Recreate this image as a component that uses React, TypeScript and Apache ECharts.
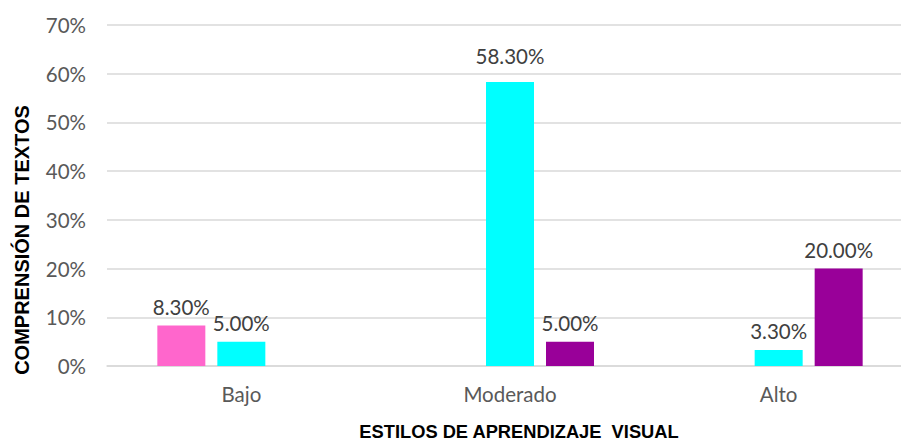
import React, { useEffect, useRef } from "react";
import * as echarts from "echarts";

const categories = ["Bajo", "Moderado", "Alto"];
const seriesPink = [8.3, null, null];
const seriesCyan = [5.0, 58.3, 3.3];
const seriesPurple = [null, 5.0, 20.0];
const yTicks = { min: 0, max: 70, interval: 10 };
const xTitle = "ESTILOS DE APRENDIZAJE  VISUAL";
const yTitle = "COMPRENSIÓN DE TEXTOS";

export default function App() {
  const ref = useRef<HTMLDivElement>(null);
  useEffect(() => {
    if (!ref.current) return;
    const chart = echarts.init(ref.current, null, { renderer: "svg" });
    const labelFont = "Lato, 'Noto Sans', sans-serif";
    const mk = (name: string, data: (number | null)[], color: string, raisedIdx: number = -1) => ({
      name,
      type: "bar",
      data: data.map((v, i) => (i === raisedIdx ? { value: v, label: { distance: 15 } } : v)),
      barWidth: 48,
      barGap: "25%",
      itemStyle: { color },
      label: {
        show: true,
        position: "top",
        distance: 8,
        color: "#404040",
        fontSize: 20.5,
        fontFamily: labelFont,
        formatter: (p: any) => (p.value == null ? "" : Number(p.value).toFixed(2) + "%"),
      },
    });
    chart.setOption({
      animation: false,
      grid: { left: 107, top: 25, bottom: 75, right: 0, containLabel: false },
      xAxis: {
        type: "category",
        data: categories,
        axisTick: { show: false },
        axisLine: { lineStyle: { color: "#d9d9d9", width: 1.5 } },
        axisLabel: { color: "#595959", fontSize: 20.5, fontFamily: labelFont, margin: 17 },
      },
      yAxis: {
        type: "value",
        min: yTicks.min,
        max: yTicks.max,
        interval: yTicks.interval,
        axisLine: { show: false },
        axisTick: { show: false },
        splitLine: { lineStyle: { color: "#d9d9d9", width: 1.5 } },
        axisLabel: { color: "#595959", fontSize: 20.5, fontFamily: labelFont, margin: 21, formatter: "{value}%" },
      },
      graphic: [
        {
          type: "text",
          x: 22,
          y: 240,
          rotation: Math.PI / 2,
          style: {
            text: yTitle,
            fontSize: 20,
            fontWeight: "bold",
            fontFamily: "'Liberation Sans', Arial, sans-serif",
            fill: "#000",
            align: "center",
            verticalAlign: "middle",
          },
        },
        {
          type: "text",
          x: 519,
          y: 431,
          style: {
            text: xTitle,
            fontSize: 18.3,
            fontWeight: "bold",
            fontFamily: "'Liberation Sans', Arial, sans-serif",
            fill: "#000",
            align: "center",
            verticalAlign: "middle",
          },
        },
      ],
      series: [
        mk("Rosa", seriesPink, "#FF66CC"),
        mk("Cian", seriesCyan, "#00FFFF", 1),
        mk("Morado", seriesPurple, "#990099"),
      ],
    });
    return () => chart.dispose();
  }, []);
  return (
    <div style={{ position: "absolute", left: 0, top: 0, width: 901, height: 441, overflow: "hidden" }}>
      <div ref={ref} style={{ width: 913, height: 441 }} />
    </div>
  );
}
